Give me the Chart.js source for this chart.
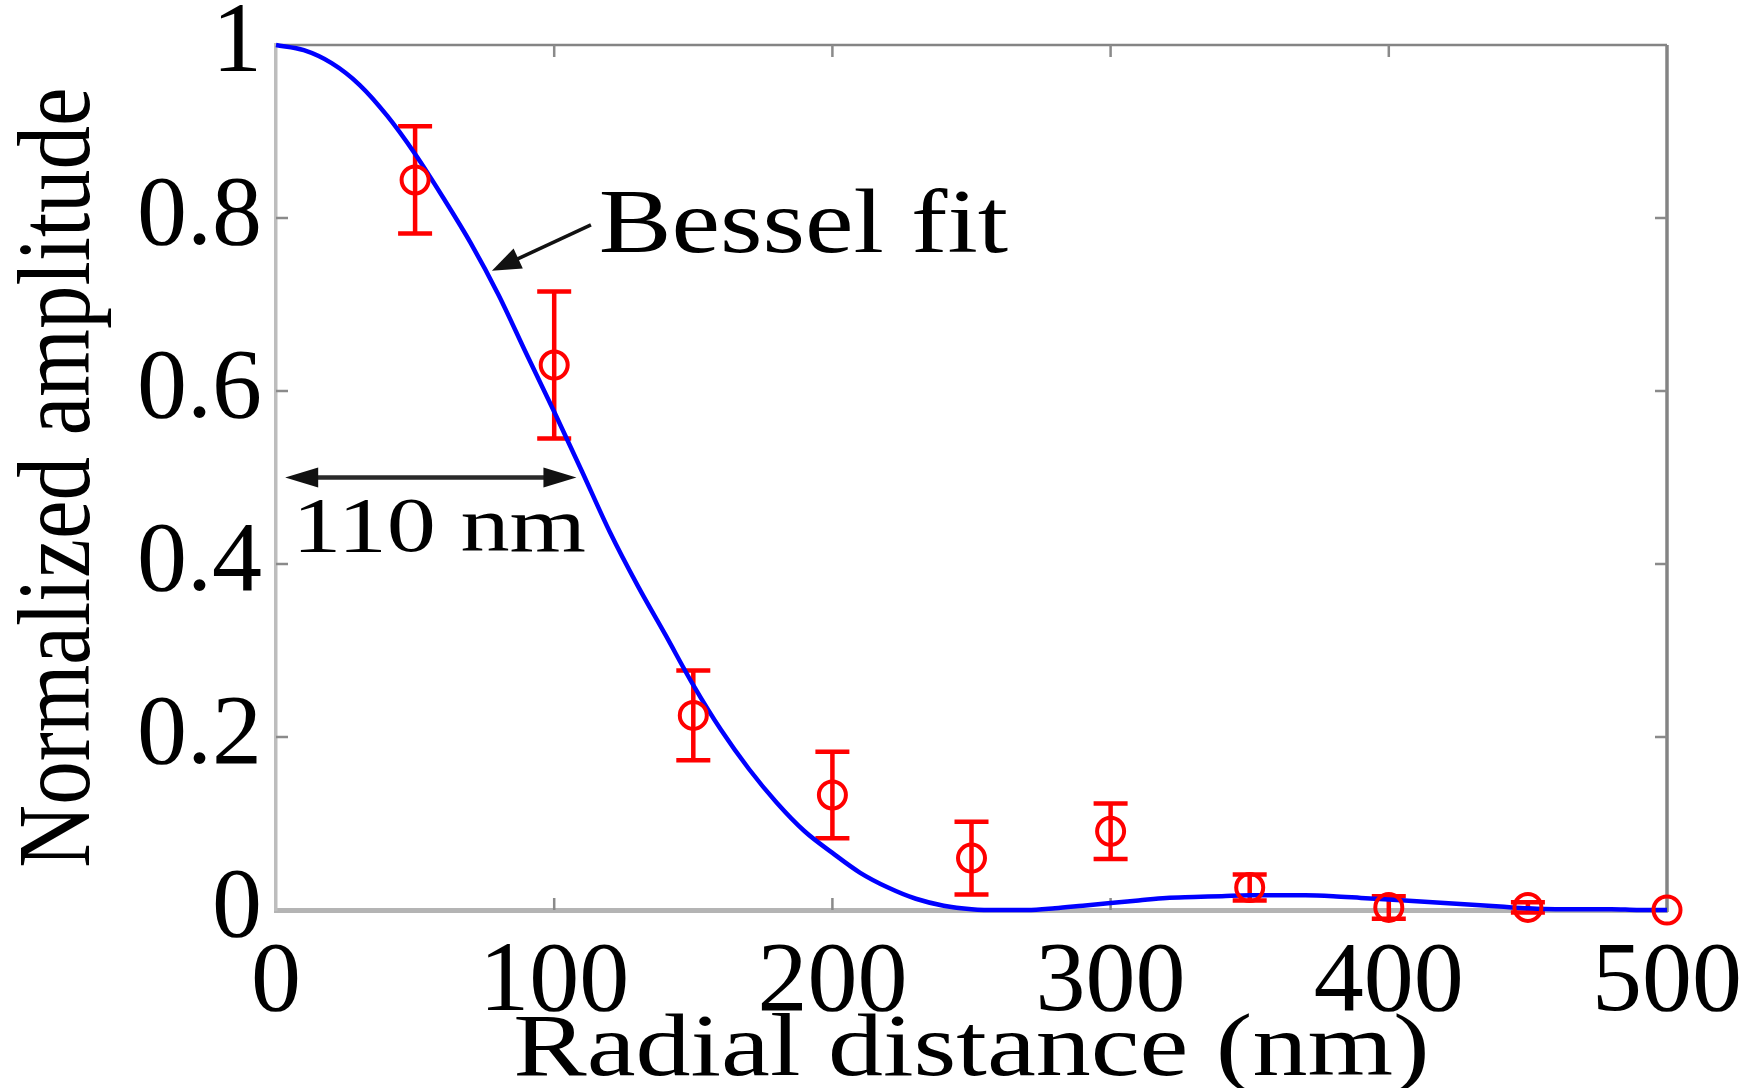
<!DOCTYPE html>
<html>
<head>
<meta charset="utf-8">
<title>Normalized amplitude vs radial distance</title>
<script src="https://cdn.jsdelivr.net/npm/chart.js@4.4.1/dist/chart.umd.min.js"></script>
<style>
  html, body { margin: 0; padding: 0; background: #ffffff; }
  #wrap { width: 1751px; height: 1088px; }
</style>
</head>
<body>
<div id="wrap"><canvas id="radialChart" width="1751" height="1088"></canvas></div>
<script>
// measured points (red circles) with symmetric error bars
const radialNm = [50, 100, 150, 200, 250, 300, 350, 400, 450, 500];
const amplitude = [0.844, 0.630, 0.225, 0.133, 0.060, 0.091, 0.026, 0.003, 0.003, 0.000];
const amplitudeErr = [0.062, 0.085, 0.052, 0.050, 0.042, 0.032, 0.015, 0.013, 0.006, 0.000];

// Bessel fit curve
const fitNm = [0, 10, 20, 30, 40, 50, 60, 70, 80, 90,
  100, 110, 120, 130, 140, 150, 160, 170, 180, 190,
  200, 210, 220, 230, 240, 250, 260, 270, 280, 290,
  300, 310, 320, 330, 340, 350, 360, 370, 380, 390,
  400, 410, 420, 430, 440, 450, 460, 470, 480, 490, 500];
const fitAmplitude = [1.000, 0.994, 0.979, 0.954, 0.918, 0.874, 0.824, 0.771, 0.711, 0.643,
  0.576, 0.507, 0.437, 0.375, 0.318, 0.260, 0.208, 0.163, 0.124, 0.091,
  0.066, 0.043, 0.026, 0.013, 0.005, 0.001, 0.000, 0.000, 0.002, 0.005,
  0.008, 0.011, 0.014, 0.015, 0.016, 0.017, 0.017, 0.017, 0.016, 0.014,
  0.012, 0.010, 0.008, 0.006, 0.004, 0.002, 0.001, 0.001, 0.001, 0.000, 0.000];

const xTickLabels = ["0", "100", "200", "300", "400", "500"];
const yTickLabels = ["0", "0.2", "0.4", "0.6", "0.8", "1"];

const SERIF = '"Liberation Serif", "Times New Roman", Times, serif';

// text drawn with a stretch factor along (sx) and across (sy) the baseline
function drawText(ctx, text, x, y, size, sx, sy, align, rotation) {
  ctx.save();
  ctx.font = size + "px " + SERIF;
  ctx.fillStyle = "#000000";
  ctx.textAlign = align;
  ctx.textBaseline = "alphabetic";
  ctx.translate(x, y);
  if (rotation) ctx.rotate(rotation);
  ctx.scale(sx, sy);
  ctx.fillText(text, 0, 0);
  ctx.restore();
}

function arrowHead(ctx, fromX, fromY, tipX, tipY, len, half) {
  const ang = Math.atan2(tipY - fromY, tipX - fromX);
  const bx = tipX - len * Math.cos(ang);
  const by = tipY - len * Math.sin(ang);
  ctx.beginPath();
  ctx.moveTo(tipX, tipY);
  ctx.lineTo(bx + half * Math.sin(ang), by - half * Math.cos(ang));
  ctx.lineTo(bx - half * Math.sin(ang), by + half * Math.cos(ang));
  ctx.closePath();
  ctx.fill();
}

// top/right frame lines and inward tick marks on all four sides
const frameTicks = {
  id: "frameTicks",
  beforeDatasetsDraw(chart) {
    const { ctx, chartArea: a, scales: { x, y } } = chart;
    ctx.save();
    ctx.strokeStyle = "#848484";
    ctx.lineWidth = 2.5;
    ctx.beginPath();
    ctx.moveTo(a.left, a.top);
    ctx.lineTo(a.right, a.top);
    ctx.stroke();
    ctx.lineWidth = 3.5;
    ctx.beginPath();
    ctx.moveTo(a.right, a.top);
    ctx.lineTo(a.right, a.bottom + 2);
    ctx.stroke();

    ctx.strokeStyle = "#8a8a8a";
    ctx.lineWidth = 2.5;
    const len = 12;
    ctx.beginPath();
    x.ticks.forEach((t) => {
      if (t.value === x.min || t.value === x.max) return;
      const px = x.getPixelForValue(t.value);
      ctx.moveTo(px, a.bottom);
      ctx.lineTo(px, a.bottom - len);
      ctx.moveTo(px, a.top);
      ctx.lineTo(px, a.top + len);
    });
    y.ticks.forEach((t) => {
      if (t.value === y.min || t.value === y.max) return;
      const py = y.getPixelForValue(t.value);
      ctx.moveTo(a.left, py);
      ctx.lineTo(a.left + len, py);
      ctx.moveTo(a.right, py);
      ctx.lineTo(a.right - len, py);
    });
    ctx.stroke();
    ctx.restore();
  }
};

const errorBars = {
  id: "errorBars",
  beforeDatasetsDraw(chart) {
    const { ctx, scales: { x, y } } = chart;
    const cap = 17;
    ctx.save();
    ctx.strokeStyle = "#ff0000";
    ctx.lineWidth = 4.5;
    ctx.beginPath();
    radialNm.forEach((r, i) => {
      const e = amplitudeErr[i];
      if (!e) return;
      const px = x.getPixelForValue(r);
      const top = y.getPixelForValue(amplitude[i] + e);
      const bot = y.getPixelForValue(amplitude[i] - e);
      ctx.moveTo(px, top);
      ctx.lineTo(px, bot);
      ctx.moveTo(px - cap, top);
      ctx.lineTo(px + cap, top);
      ctx.moveTo(px - cap, bot);
      ctx.lineTo(px + cap, bot);
    });
    ctx.stroke();
    ctx.restore();
  }
};

// labels, axis titles and arrows
const besselArrow = { tail: [113.2, 0.792], tip: [77.6, 0.739] };
const besselText = { x: 116.0, y: 0.761 };
const widthArrow = { from: 3.3, to: 108, y: 0.5 };
const widthText = { x: 5.8, y: 0.415 };

const annotations = {
  id: "annotations",
  afterDatasetsDraw(chart) {
    const { ctx, chartArea: a, scales: { x, y } } = chart;
    ctx.save();

    // "Bessel fit" pointer
    const tx = x.getPixelForValue(besselArrow.tail[0]);
    const ty = y.getPixelForValue(besselArrow.tail[1]);
    const hx = x.getPixelForValue(besselArrow.tip[0]);
    const hy = y.getPixelForValue(besselArrow.tip[1]);
    ctx.strokeStyle = "#111111";
    ctx.fillStyle = "#111111";
    ctx.lineWidth = 3.5;
    ctx.beginPath();
    ctx.moveTo(tx, ty);
    ctx.lineTo(hx + (tx - hx) * 0.25, hy + (ty - hy) * 0.25);
    ctx.stroke();
    arrowHead(ctx, tx, ty, hx, hy, 29, 11);
    drawText(ctx, "Bessel fit", x.getPixelForValue(besselText.x), y.getPixelForValue(besselText.y), 91, 1.2, 1, "left");

    // 110 nm double arrow
    const ax1 = x.getPixelForValue(widthArrow.from);
    const ax2 = x.getPixelForValue(widthArrow.to);
    const ay = y.getPixelForValue(widthArrow.y);
    ctx.strokeStyle = "#2a2a2a";
    ctx.fillStyle = "#111111";
    ctx.lineWidth = 4.5;
    ctx.beginPath();
    ctx.moveTo(ax1 + 20, ay);
    ctx.lineTo(ax2 - 20, ay);
    ctx.stroke();
    arrowHead(ctx, ax2, ay, ax1, ay, 33, 10);
    arrowHead(ctx, ax1, ay, ax2, ay, 33, 10);
    drawText(ctx, "110 nm", x.getPixelForValue(widthText.x), y.getPixelForValue(widthText.y), 78, 1.26, 1, "left");

    // axis titles
    drawText(ctx, "Radial distance (nm)", (a.left + a.right) / 2, 1075, 88, 1.25, 1, "center");
    drawText(ctx, "Normalized amplitude", 89, (a.top + a.bottom) / 2, 87, 1.0, 1.2, "center", -Math.PI / 2);

    ctx.restore();
  }
};

const tickFont = { family: SERIF, size: 100 };

const ctx = document.getElementById("radialChart").getContext("2d");
new Chart(ctx, {
  type: "scatter",
  data: {
    datasets: [
      {
        label: "Measured",
        data: radialNm.map((r, i) => ({ x: r, y: amplitude[i] })),
        showLine: false,
        pointStyle: "circle",
        pointRadius: 13.5,
        pointBorderWidth: 4,
        pointBorderColor: "#ff0000",
        pointBackgroundColor: "rgba(0,0,0,0)",
        clip: false,
        order: 0
      },
      {
        label: "Bessel fit",
        data: fitNm.map((r, i) => ({ x: r, y: fitAmplitude[i] })),
        showLine: true,
        borderColor: "#0000ff",
        borderWidth: 4.5,
        pointRadius: 0,
        cubicInterpolationMode: "monotone",
        fill: false,
        clip: false,
        order: 1
      }
    ]
  },
  options: {
    responsive: false,
    animation: false,
    devicePixelRatio: 1,
    layout: { padding: { top: 45, right: 84, left: 0, bottom: 0 } },
    plugins: { legend: { display: false }, tooltip: { enabled: false } },
    scales: {
      x: {
        type: "linear",
        min: 0,
        max: 500,
        grid: { display: false, drawTicks: false },
        border: { display: true, color: "#b4b4b4", width: 5 },
        ticks: {
          stepSize: 100,
          autoSkip: false,
          maxRotation: 0,
          padding: 14,
          color: "#000000",
          font: tickFont,
          callback: (v, i) => xTickLabels[i]
        },
        afterFit: (s) => {
          s.height = 178;
          s.paddingLeft = 0;
          s.paddingRight = 0;
        }
      },
      y: {
        type: "linear",
        min: 0,
        max: 1,
        grid: { display: false, drawTicks: false },
        border: { display: true, color: "#bdbdbd", width: 3.5 },
        ticks: {
          stepSize: 0.2,
          autoSkip: false,
          padding: 14,
          color: "#000000",
          font: tickFont,
          callback: (v, i) => yTickLabels[i]
        },
        afterFit: (s) => {
          s.width = 276;
          s.paddingTop = 0;
          s.paddingBottom = 0;
        }
      }
    }
  },
  plugins: [frameTicks, errorBars, annotations]
});
</script>
</body>
</html>
